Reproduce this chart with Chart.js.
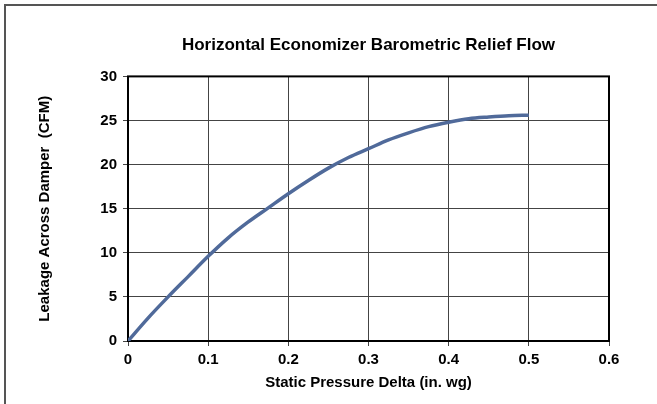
<!DOCTYPE html>
<html>
<head>
<meta charset="utf-8">
<script src="https://cdn.jsdelivr.net/npm/chart.js@4.4.1/dist/chart.umd.min.js"></script>
<style>
  html, body { margin: 0; padding: 0; background: #fff; }
  #wrap { width: 657px; height: 404px; position: relative; }
</style>
</head>
<body>
<div id="wrap"><canvas id="chart" width="657" height="404"></canvas></div>
<script>
// values
const pressure = [0, 0.025, 0.05, 0.075, 0.1, 0.125, 0.15, 0.175, 0.2, 0.225, 0.25, 0.275,
                  0.3, 0.325, 0.35, 0.375, 0.4, 0.425, 0.45, 0.475, 0.5];
const leakage = [0, 2.6, 5.0, 7.3, 9.6, 11.7, 13.5, 15.1, 16.7, 18.2, 19.6, 20.8,
                 21.8, 22.8, 23.6, 24.3, 24.8, 25.2, 25.4, 25.55, 25.6];

const xTicks = [0, 0.1, 0.2, 0.3, 0.4, 0.5, 0.6];
const yTicks = [0, 5, 10, 15, 20, 25, 30];

const FONT = "'Liberation Sans', Arial, sans-serif";

// outer frame of the figure + black box round the plot area
const framePlugin = {
  id: "frame",
  afterLayout(chart) {
    // centre the title over the plot area, not the whole canvas
    const t = chart.titleBlock;
    if (t) {
      t.left = chart.chartArea.left;
      t.right = chart.chartArea.right;
    }
  },
  beforeDraw(chart) {
    const ctx = chart.ctx;
    ctx.save();
    ctx.fillStyle = "#fff";
    ctx.fillRect(0, 0, chart.width, chart.height);
    ctx.strokeStyle = "#555";
    ctx.lineWidth = 2;
    ctx.beginPath();
    ctx.moveTo(5, chart.height);
    ctx.lineTo(5, 5);
    ctx.lineTo(chart.width, 5);
    ctx.stroke();
    ctx.restore();
  },
  beforeDatasetsDraw(chart) {
    const { left, top, right, bottom } = chart.chartArea;
    const ctx = chart.ctx;
    ctx.save();
    ctx.strokeStyle = "#000";
    ctx.lineWidth = 2;
    ctx.strokeRect(left, top, right - left, bottom - top);
    ctx.restore();
  }
};

new Chart(document.getElementById("chart"), {
  type: "line",
  data: {
    datasets: [{
      data: pressure.map((p, i) => ({ x: p, y: leakage[i] })),
      borderColor: "#506a9a",
      borderWidth: 3.5,
      pointRadius: 0,
      cubicInterpolationMode: "monotone",
      fill: false
    }]
  },
  options: {
    responsive: false,
    animation: false,
    layout: { padding: { left: 8, right: 48, top: 0, bottom: 0 } },
    plugins: {
      legend: { display: false },
      tooltip: { enabled: false },
      title: {
        display: true,
        text: "Horizontal Economizer Barometric Relief Flow",
        color: "#000",
        font: { family: FONT, size: 17, weight: "bold" },
        padding: { top: 35, bottom: 21 }
      }
    },
    scales: {
      x: {
        type: "linear",
        min: 0,
        max: 0.6,
        afterBuildTicks: (s) => { s.ticks = xTicks.map(v => ({ value: v })); },
        afterFit: (s) => { s.height = 63; },
        grid: { color: "#444", lineWidth: 1, tickLength: 5, tickColor: "#444" },
        border: { display: false },
        ticks: {
          color: "#000",
          padding: 5,
          maxRotation: 0,
          font: { family: FONT, size: 15, weight: "bold" },
          callback: (v) => String(v)
        },
        title: {
          display: true,
          text: "Static Pressure Delta (in. wg)",
          color: "#000",
          font: { family: FONT, size: 15, weight: "bold" },
          padding: { bottom: 12 }
        }
      },
      y: {
        min: 0,
        max: 30,
        afterBuildTicks: (s) => { s.ticks = yTicks.map(v => ({ value: v })); },
        afterFit: (s) => { s.width = 120; },
        grid: { color: "#444", lineWidth: 1, tickLength: 5, tickColor: "#444" },
        border: { display: false },
        ticks: {
          color: "#000",
          padding: 6,
          font: { family: FONT, size: 15, weight: "bold" }
        },
        title: {
          display: true,
          text: "Leakage Across Damper  (CFM)",
          color: "#000",
          font: { family: FONT, size: 15, weight: "bold" },
          padding: { top: 28 }
        }
      }
    }
  },
  plugins: [framePlugin]
});
</script>
</body>
</html>
